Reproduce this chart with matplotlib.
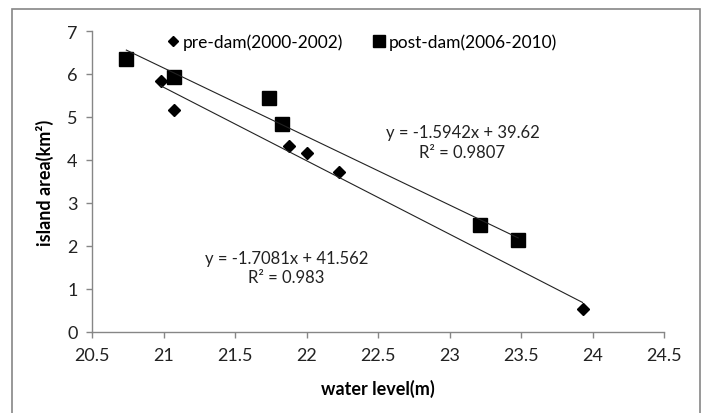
import numpy as np
import matplotlib
matplotlib.use("Agg")
import matplotlib.pyplot as plt
from matplotlib.patches import Rectangle

plt.rcParams['font.family'] = ['Lato', 'DejaVu Sans']

# pre-dam (2000-2002)
nivel_pre = [20.98, 21.07, 21.88, 22.00, 22.23, 23.93]
area_pre = [5.84, 5.16, 4.33, 4.17, 3.71, 0.54]
# post-dam (2006-2010)
nivel_pos = [20.74, 21.07, 21.74, 21.83, 23.21, 23.48]
area_pos = [6.35, 5.93, 5.44, 4.84, 2.49, 2.14]

# coeficientes das retas de tendência
coef_pre = (-1.7081, 41.562)
r2_pre = 0.983
coef_pos = (-1.5942, 39.62)
r2_pos = 0.9807

x_ticks = [20.5, 21, 21.5, 22, 22.5, 23, 23.5, 24, 24.5]
y_ticks = [0, 1, 2, 3, 4, 5, 6, 7]

fig = plt.figure(figsize=(7.04, 4.14), dpi=100)
ax = fig.add_axes([0.1307, 0.1957, 0.8125, 0.727])

# borda externa do gráfico
fig.patches.append(Rectangle((12 / 704, -0.01), 688 / 704, 1 - 10 / 414 + 0.01,
                             transform=fig.transFigure, fill=False,
                             edgecolor='#868686', linewidth=1.2))

ax.plot(nivel_pre, area_pre, linestyle='none', marker='D', markersize=6.3,
        color='black', label='pre-dam(2000-2002)')
ax.plot(nivel_pos, area_pos, linestyle='none', marker='s', markersize=9.5,
        color='black', label='post-dam(2006-2010)')

# retas de tendência (do menor ao maior x de cada série)
xs = np.array([min(nivel_pre), max(nivel_pre)])
ax.plot(xs, coef_pre[0] * xs + coef_pre[1], color='#222222', linewidth=0.8)
xs = np.array([min(nivel_pos), max(nivel_pos)])
ax.plot(xs, coef_pos[0] * xs + coef_pos[1], color='#222222', linewidth=0.8)

ax.text(23.09, 4.42, f'y = {coef_pos[0]}x + {coef_pos[1]}\nR² = {r2_pos}',
        ha='center', va='center', fontsize=12, color='#222222', linespacing=1.25)
ax.text(21.86, 1.5, f'y = {coef_pre[0]}x + {coef_pre[1]}\nR² = {r2_pre}',
        ha='center', va='center', fontsize=12, color='#222222', linespacing=1.25)

ax.set_xlim(20.5, 24.5)
ax.set_ylim(0, 7)
ax.set_xticks(x_ticks)
ax.set_xticklabels([f'{v:g}' for v in x_ticks])
ax.set_yticks(y_ticks)

for lado in ['top', 'right']:
    ax.spines[lado].set_visible(False)
for lado in ['left', 'bottom']:
    ax.spines[lado].set_color('#868686')
    ax.spines[lado].set_linewidth(1.0)
ax.tick_params(direction='out', length=4.5, width=1.0, color='#868686',
               labelsize=13, labelcolor='#222222', pad=6)

ax.set_xlabel('water level(m)', fontsize=13, fontweight='bold')
ax.set_ylabel('island area(km²)', fontsize=13, fontweight='bold')
ax.xaxis.set_label_coords(0.5, -0.155)
ax.yaxis.set_label_coords(-0.066, 0.5)

ax.legend(loc='upper center', bbox_to_anchor=(0.47, 1.045), ncol=2, frameon=False,
          fontsize=12.5, handletextpad=0.05, columnspacing=1.6, handlelength=1.0,
          markerscale=0.85)

fig.savefig('out.png', dpi=100)
